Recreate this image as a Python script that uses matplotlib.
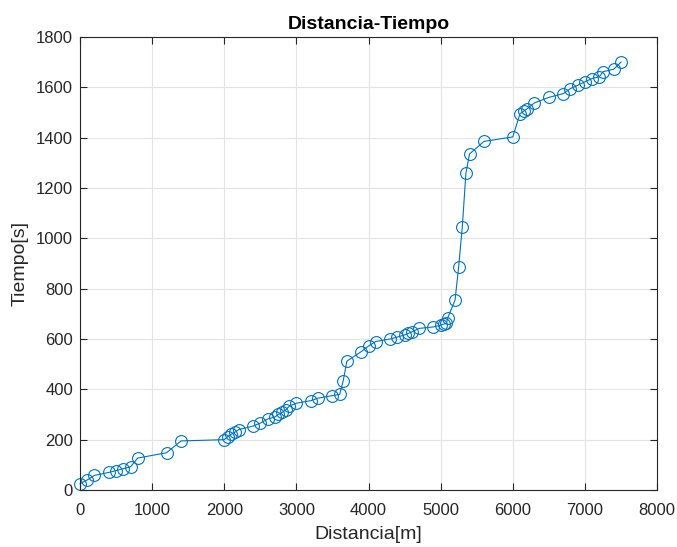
import matplotlib
matplotlib.use("Agg")
import matplotlib.pyplot as plt

distancia = [0, 100, 200, 400, 500, 600, 700, 800, 1200, 1400,
             2000, 2050, 2100, 2150, 2200, 2400, 2500, 2600, 2700, 2750,
             2800, 2850, 2900, 3000, 3200, 3300, 3500, 3600, 3650, 3700,
             3900, 4000, 4100, 4300, 4400, 4500, 4550, 4600, 4700, 4900,
             5000, 5050, 5080, 5100, 5200, 5250, 5300, 5350, 5400, 5600,
             6000, 6100, 6150, 6200, 6300, 6500, 6700, 6800, 6900, 7000,
             7100, 7200, 7250, 7400, 7500]
tiempo = [25, 40, 58, 70, 77, 85, 92, 127, 148, 195,
          200, 212, 222, 230, 240, 254, 266, 282, 290, 300,
          308, 318, 333, 345, 355, 365, 375, 380, 435, 512,
          550, 572, 590, 600, 608, 616, 622, 628, 642, 648,
          655, 660, 662, 685, 755, 888, 1045, 1258, 1335, 1385,
          1403, 1495, 1505, 1515, 1538, 1560, 1575, 1595, 1608, 1622,
          1635, 1642, 1662, 1672, 1700]

plt.rcParams['font.family'] = ['Liberation Sans', 'DejaVu Sans']

fig = plt.figure(figsize=(6.77, 5.47), dpi=100)
ax = fig.add_axes([0.1182, 0.1042, 0.8523, 0.8282])

ax.plot(distancia, tiempo, color='#0072BD', linewidth=0.8, marker='o',
        markersize=8.5, markerfacecolor='none', markeredgewidth=0.8,
        clip_on=False)

ax.set_xlim(0, 8000)
ax.set_ylim(0, 1800)
ax.set_xticks(range(0, 8001, 1000))
ax.set_yticks(range(0, 1801, 200))
ax.grid(True, color='#e3e3e3', linewidth=0.8)
ax.set_axisbelow(True)
for s in ax.spines.values():
    s.set_color('#262626')
    s.set_linewidth(0.8)
ax.tick_params(direction='in', top=True, right=True, length=5,
               color='#262626', labelsize=12, labelcolor='#262626', width=0.8)
ax.tick_params(axis='x', pad=9)
ax.tick_params(axis='y', pad=5)

ax.set_title('Distancia-Tiempo', fontsize=14, fontweight='bold', color='black', pad=5.5)
ax.set_xlabel('Distancia[m]', fontsize=14, color='#262626', labelpad=6)
ax.set_ylabel('Tiempo[s]', fontsize=14, color='#262626', labelpad=5)

fig.savefig('out.png', dpi=100)
